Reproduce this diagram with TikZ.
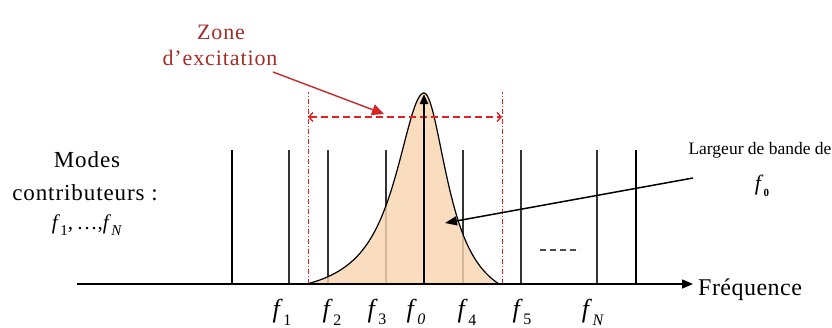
\documentclass[tikz,border=0pt]{standalone}
\usepackage{fontspec}
\setmainfont{Liberation Serif}
\newfontfamily\zonefont[LetterSpace=4]{Liberation Serif}
\newfontfamily\modesfont[LetterSpace=4]{Liberation Serif}
\newfontfamily\freqfont[LetterSpace=2]{Liberation Serif}
\usetikzlibrary{arrows.meta}
\definecolor{peach}{RGB}{249,214,176}
\definecolor{zred}{RGB}{228,32,32}
\definecolor{zline}{RGB}{200,40,40}
\definecolor{ztext}{RGB}{165,45,40}
\newcommand\fsub[1]{\textit{f}\kern0.5pt\raisebox{-0.3em}{\fontsize{16}{16}\selectfont #1}}
\begin{document}
\begin{tikzpicture}[x=1pt,y=-1pt,
  thinline/.style={line width=1.3pt, draw=black!80},
  thickline/.style={line width=2.6pt, draw=black},
  redvert/.style={draw=zred, line width=0.9pt, dash pattern=on 5pt off 2pt on 1pt off 2pt},
  axislbl/.style={inner sep=0pt, font=\fontsize{26}{26}\selectfont},
  zonetxt/.style={inner sep=0pt, text=ztext, font=\zonefont\fontsize{22}{22}\selectfont},
  modestxt/.style={inner sep=0pt, font=\modesfont\fontsize{23}{23}\selectfont},
  declare function={cl(\t)=284-191*(1/(1+((424-\t)/35)^2)-0.082)/0.918;
                    cr(\t)=284-191*(1/(1+((\t-424)/29)^2)-0.13)/0.87;}
]
\useasboundingbox (0,0) rectangle (832,327);

% line coordinates
\foreach \n/\x in {t1/232,a1/289,a2/328,a3/386,a4/463,a5/521,aN/597,t2/636}{
  \coordinate (\n-top) at (\x,150);
  \coordinate (\n-bot) at (\x,284);
}
\coordinate (p0-bot) at (424,284);
\coordinate (p0-top) at (424,94);
\coordinate (rl-top) at (308,92);
\coordinate (rl-bot) at (308,284);
\coordinate (rr-top) at (502,92);
\coordinate (rr-bot) at (502,284);
\coordinate (dl) at (308,117);
\coordinate (dr) at (502,117);
\coordinate (ax0) at (77,284);
\coordinate (ax1) at (693,284);

% thin mode lines
\foreach \n in {a1,a2,a3,a4,a5,aN}{
  \draw[thinline] (\n-bot) -- (\n-top);
}
% thick mode lines
\foreach \n in {t1,t2}{
  \draw[thickline] (\n-bot) -- (\n-top);
}

% resonance curve
\fill[peach, fill opacity=0.82] (307,284) -- plot[domain=307:424, samples=90] (\x,{cl(\x)})
   -- plot[domain=424:499, samples=70] (\x,{cr(\x)}) -- cycle;
\draw[line width=1.2pt] (290,284) -- (307,284) -- plot[domain=307:424, samples=90] (\x,{cl(\x)})
   -- plot[domain=424:499, samples=70] (\x,{cr(\x)});

% excitation zone
\draw[redvert] (rl-bot) -- (rl-top);
\draw[redvert] (rr-bot) -- (rr-top);
\draw[draw=zred, line width=1.4pt, dash pattern=on 7pt off 4pt,
  {Straight Barb[length=4pt,width=9pt]}-{Straight Barb[length=4pt,width=9pt]}] (dl) -- (dr);

% axis
\draw[line width=1.5pt, -{Triangle[length=11pt,width=9pt]}] (ax0) -- (ax1);

% f0 arrow
\draw[thickline, -{Triangle[length=10pt,width=8pt]}] (p0-bot) -- (p0-top);

% texts
\node[zonetxt] (zone) at (221,32) {Zone};
\node[zonetxt] (excit) at (220,58) {d’excitation};
\coordinate (zs) at (273,72);
\coordinate (ze) at (384,114);
\draw[draw=zline, line width=1.4pt, -{Triangle[length=12pt,width=11pt,fill=zred]}] (zs) -- (ze);

\node[modestxt] (modes) at (87,160) {Modes};
\node[modestxt] (contrib) at (85,193) {contributeurs :};
\node[inner sep=0pt, font=\fontsize{21}{21}\selectfont] (flist) at (87,225)
  {\textit{f}\kern0.3pt\raisebox{-0.25em}{\fontsize{15}{15}\selectfont 1},\,…,\textit{f}\kern0.3pt\raisebox{-0.25em}{\fontsize{15}{15}\selectfont\textit{N}}};

\node[anchor=west, inner sep=0pt, font=\freqfont\fontsize{24}{24}\selectfont] (freq) at (698,290) {Fréquence};

\node[axislbl] (l1) at (282,312) {\fsub{1}};
\node[axislbl] (l2) at (332,312) {\fsub{2}};
\node[axislbl] (l3) at (377,312) {\fsub{3}};
\node[axislbl] (l0) at (416,312) {\fsub{\textit{0}}};
\node[axislbl] (l4) at (467,312) {\fsub{4}};
\node[axislbl] (l5) at (522,312) {\fsub{5}};
\node[axislbl] (lN) at (593,312) {\fsub{\textit{N}}};

\node[inner sep=0pt, font=\fontsize{17.5}{17.5}\selectfont] (largeur) at (760,150) {Largeur de bande de};
\node[inner sep=0pt, font=\fontsize{22}{22}\selectfont] (lf0) at (762,186)
  {\textit{f}\kern0.3pt\raisebox{-0.3em}{\fontsize{11}{11}\selectfont\textbf{0}}};
\coordinate (bs) at (693,178);
\coordinate (be) at (445,223);
\draw[line width=1.5pt, -{Triangle[length=12pt,width=9pt]}] (bs) -- (be);

% dashes
\draw[line width=1.2pt, black!70, dash pattern=on 6pt off 4pt] (540,250) -- (580,250);
\end{tikzpicture}
\end{document}
